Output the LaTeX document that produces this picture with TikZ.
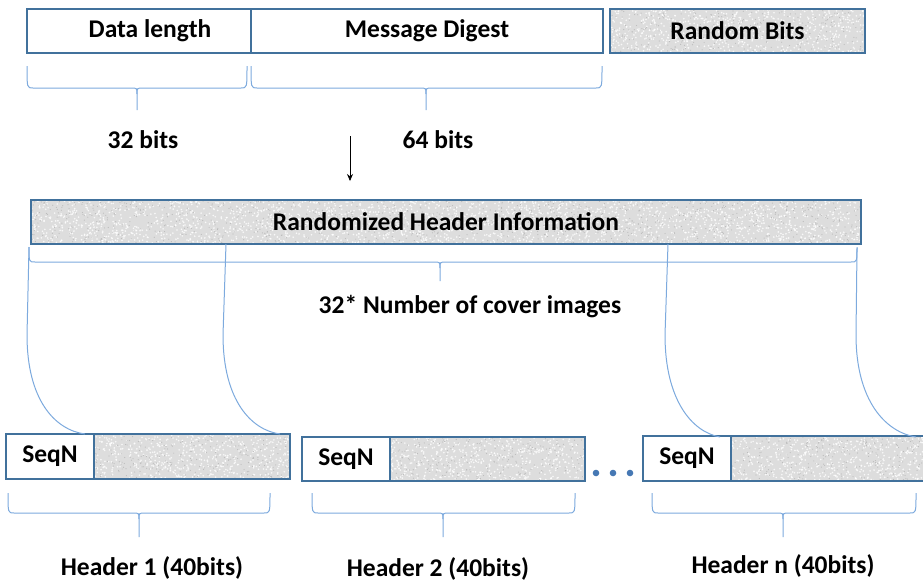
\documentclass[tikz,border=0pt]{standalone}
\usepackage{fontspec}
\setmainfont{Carlito}
\usetikzlibrary{arrows.meta,calc}
\definecolor{boxblue}{RGB}{65,113,156}
\definecolor{lineblue}{RGB}{125,170,222}
\definecolor{texgray}{RGB}{221,221,221}
\definecolor{speckdark}{RGB}{188,188,188}
\definecolor{dotblue}{RGB}{70,120,180}
\newcommand\curlybr[6]{%
  \draw[brc] (#1,#4) .. controls (#1,#5) .. (#1+6,#5) -- (#3-6,#5) .. controls (#3,#5) .. (#3,#5+6) -- (#3,#6);
  \draw[brc] (#2,#4) .. controls (#2,#5) .. (#2-6,#5) -- (#3+6,#5) .. controls (#3,#5) .. (#3,#5+6);
}
% speckle texture inside a named textured node: #1 node, #2 white specks, #3 dark specks
\newcommand\speckle[3]{%
  \begin{scope}
    \clip (#1.north west) rectangle (#1.south east);
    \path (#1.north west) coordinate (spA) (#1.south east) coordinate (spB);
    \path let \p1=(spA), \p2=(spB) in
      \pgfextra{\pgfmathsetmacro\spw{\x2-\x1}\global\let\spw\spw
                \pgfmathsetmacro\sph{\y2-\y1}\global\let\sph\sph};
    \foreach \i in {1,...,#2}{
      \fill[white,opacity=0.8] ([shift={(rnd*\spw pt,rnd*\sph pt)}]spA) circle (0.9pt);
    }
    \foreach \i in {1,...,#3}{
      \fill[speckdark] ([shift={(rnd*\spw pt,rnd*\sph pt)}]spA) circle (0.6pt);
    }
  \end{scope}
  \draw[boxblue, line width=1.2pt] (#1.north west) rectangle (#1.south east);
}
\tikzset{
  fld/.style={draw=boxblue, line width=1.2pt, inner sep=0pt, outer sep=0pt, anchor=north west,
    font=\bfseries\fontsize{25.5}{28}\selectfont},
  plainbox/.style={fld, fill=white},
  texbox/.style={fld, fill=texgray},
  brc/.style={draw=lineblue, line width=1pt},
  lbl/.style={font=\bfseries\fontsize{25.5}{28}\selectfont},
}
\begin{document}
\begin{tikzpicture}[x=1pt,y=-1pt]
\pgfmathsetseed{11}
\useasboundingbox (0,0) rectangle (923,582);
\clip (0,0) rectangle (923,582);
\fill[white] (0,0) rectangle (923,582);
% top row
\node[plainbox, minimum width=224pt, minimum height=44pt] (dl) at (27,9) {\hspace*{22pt}Data length};
\node[plainbox, minimum width=352pt, minimum height=44pt] (md) at (251,9) {Message Digest};
\node[texbox, minimum width=255pt, minimum height=44pt] (rb) at (610,9) {};
\speckle{rb}{700}{300}
\node[lbl] (rbt) at (rb.center) {Random Bits};
\curlybr{27}{247}{137}{66}{88}{110}
\curlybr{251}{602}{426}{66}{88}{110}
\node[lbl] (b32) at (143,140) {32 bits};
\node[lbl] (b64) at (438,140) {64 bits};
\coordinate (a1) at (350,136);
\coordinate (a2) at (350,181);
\draw[-{Stealth[length=7pt,width=6pt]}, line width=0.8pt] (a1) -- (a2);
% randomized header
\node[texbox, minimum width=830pt, minimum height=44pt] (rh) at (31,200) {};
\speckle{rh}{2300}{1000}
\node[lbl] (rht) at (rh.center) {Randomized Header Information};
\curlybr{29}{857}{440}{247}{262}{281}
\node[lbl] (cov) at (470,307) {32* Number of cover images};
% bottom headers
\node[plainbox, minimum width=88pt, minimum height=45pt] (s1) at (6,434) {SeqN};
\node[texbox, minimum width=196pt, minimum height=45pt] (d1) at (94,434) {};
\speckle{d1}{560}{240}
\node[plainbox, minimum width=88pt, minimum height=44pt] (s2) at (302,437) {SeqN};
\node[texbox, minimum width=195pt, minimum height=44pt] (d2) at (390,437) {};
\speckle{d2}{560}{240}
\node[plainbox, minimum width=88pt, minimum height=45pt] (sn) at (643,436) {SeqN};
\node[texbox, minimum width=210pt, minimum height=45pt] (dn) at (731,436) {};
\speckle{dn}{600}{260}
\fill[dotblue] (596,473) circle (3.3pt) (613,473) circle (3.3pt) (630,473) circle (3.3pt);
% curves
\coordinate (c1s) at (29,247); \coordinate (c1e) at (85,434);
\coordinate (c2s) at (226,244); \coordinate (c2e) at (280,434);
\coordinate (c3s) at (668,244); \coordinate (c3e) at (720,437);
\coordinate (c4s) at (857,248); \coordinate (c4e) at (916,437);
\draw[brc] (c1s) -- (27,335) .. controls (27,400) and (55,430) .. (c1e);
\draw[brc] (c2s) -- (223,335) .. controls (223,400) and (251,430) .. (c2e);
\draw[brc] (c3s) -- (665,335) .. controls (665,400) and (692,432) .. (c3e);
\draw[brc] (c4s) -- (856,335) .. controls (856,400) and (885,432) .. (c4e);
% bottom braces
\curlybr{8}{270}{139}{493}{513}{537}
\curlybr{312}{575}{443}{493}{513}{537}
\curlybr{652}{916}{783}{493}{513}{537}
\node[lbl] (h1) at (152,568) {Header 1 (40bits)};
\node[lbl] (h2) at (438,569) {Header 2 (40bits)};
\node[lbl] (hn) at (783,566) {Header n (40bits)};
\end{tikzpicture}
\end{document}
